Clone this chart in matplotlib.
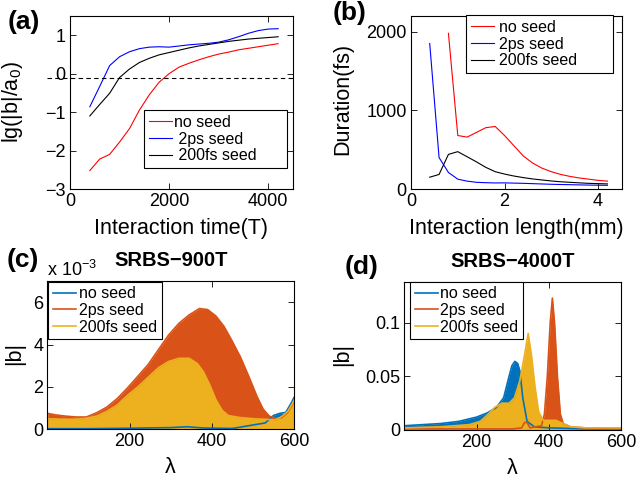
import numpy as np
import matplotlib
matplotlib.use("Agg")
import matplotlib.pyplot as plt

plt.rcParams['font.family'] = ['Liberation Sans', 'DejaVu Sans']
plt.rcParams['mathtext.fontset'] = 'custom'
plt.rcParams['mathtext.rm'] = 'Liberation Sans'
plt.rcParams['mathtext.it'] = 'Liberation Sans:italic'
plt.rcParams['axes.linewidth'] = 0.8

# ---------------- data ----------------
# (a) lg(|b|/a0) vs interaction time (T)
time_T = [400, 600, 800, 1000, 1200, 1400, 1600, 1800, 2000, 2200,
          2400, 2600, 2800, 3000, 3200, 3400, 3600, 3800, 4000, 4200]
a_noseed = [-2.52, -2.22, -2.10, -1.78, -1.43, -0.95, -0.55, -0.22, 0.0, 0.17,
            0.27, 0.36, 0.44, 0.51, 0.56, 0.62, 0.66, 0.70, 0.74, 0.78]
a_2ps = [-0.86, -0.33, 0.21, 0.44, 0.57, 0.65, 0.69, 0.70, 0.69, 0.72,
         0.75, 0.77, 0.79, 0.82, 0.88, 0.96, 1.05, 1.12, 1.16, 1.17]
a_200fs = [-1.10, -0.80, -0.51, -0.10, 0.12, 0.29, 0.40, 0.49, 0.55, 0.61,
           0.67, 0.72, 0.76, 0.80, 0.84, 0.87, 0.90, 0.92, 0.94, 0.96]
threshold = -0.11

# (b) duration (fs) vs interaction length (mm)
length_mm = [0.4, 0.6, 0.8, 1.0, 1.2, 1.4, 1.6, 1.8, 2.0, 2.2,
             2.4, 2.6, 2.8, 3.0, 3.2, 3.4, 3.6, 3.8, 4.0, 4.2]
b_noseed = [np.nan, np.nan, 1980, 680, 660, 720, 780, 795, 680, 550,
            420, 330, 265, 220, 185, 160, 140, 125, 110, 100]
b_2ps = [1850, 400, 210, 125, 100, 85, 80, 77, 78, 75,
         72, 68, 64, 60, 57, 55, 52, 50, 48, 47]
b_200fs = [150, 185, 440, 475, 410, 345, 275, 220, 190, 165,
           145, 128, 115, 102, 92, 85, 78, 72, 68, 65]

# (c) SRBS-900T spectra (|b|, units of 1e-3)
c_lam_noseed = [1, 100, 200, 300, 340, 380, 450, 530, 550, 565, 580, 595, 600]
c_noseed = [0.03, 0.03, 0.05, 0.08, 0.12, 0.06, 0.04, 0.3, 0.65, 0.75, 0.8, 1.3, 1.5]
c_lam_2ps = [1, 20, 45, 70, 95, 120, 145, 170, 195, 220, 245, 270, 295, 320, 345,
             370, 390, 410, 430, 450, 470, 490, 510, 525, 540, 555, 570, 585, 600]
c_2ps = [0.75, 0.68, 0.62, 0.58, 0.58, 0.78, 1.05, 1.45, 1.95, 2.5, 3.05, 3.75, 4.45, 5.0, 5.4,
         5.7, 5.65, 5.35, 4.85, 4.15, 3.4, 2.5, 1.55, 0.95, 0.62, 0.52, 0.55, 0.8, 1.3]
c_lam_200fs = [1, 30, 60, 90, 120, 145, 170, 195, 220, 245, 270, 295, 320, 345,
               365, 380, 395, 410, 425, 440, 470, 500, 530, 555, 570, 585, 600]
c_200fs = [0.5, 0.48, 0.47, 0.5, 0.62, 0.85, 1.15, 1.6, 2.0, 2.45, 2.9, 3.2, 3.35, 3.35,
           3.1, 2.7, 2.1, 1.4, 0.9, 0.65, 0.55, 0.5, 0.47, 0.45, 0.6, 0.85, 1.35]

# (d) SRBS-4000T spectra (|b|)
d_lam_noseed = [1, 50, 100, 150, 200, 230, 255, 275, 290, 298, 306, 314, 320, 328,
                340, 360, 400, 500, 600]
d_noseed = [0.004, 0.005, 0.006, 0.008, 0.012, 0.016, 0.021, 0.030, 0.050, 0.060, 0.064,
            0.062, 0.055, 0.030, 0.008, 0.003, 0.002, 0.001, 0.001]
d_lam_2ps = [1, 300, 325, 333, 340, 348, 380, 388, 396, 404, 410, 416, 424, 432, 440,
             460, 500, 600]
d_2ps = [0.001, 0.001, 0.002, 0.007, 0.007, 0.002, 0.004, 0.015, 0.05, 0.10, 0.123,
         0.10, 0.05, 0.015, 0.006, 0.003, 0.002, 0.001]
d_lam_200fs = [1, 100, 180, 210, 230, 250, 270, 290, 305, 320, 333, 343, 352, 362, 372,
               385, 420, 440, 460, 500, 600]
d_200fs = [0.002, 0.003, 0.005, 0.008, 0.014, 0.021, 0.025, 0.025, 0.030, 0.046, 0.070,
           0.090, 0.070, 0.040, 0.017, 0.009, 0.009, 0.006, 0.003, 0.002, 0.002]

labels = ['no seed', '2ps seed', '200fs seed']
mcol = ['#0072BD', '#D95319', '#EDB120']

# ---------------- figure ----------------
W, H = 640, 480
fig = plt.figure(figsize=(6.4, 4.8), dpi=100)

TICK = 13
LAB = 15.5
LEG = 11.5


def px_axes(l, r, t, b):
    return fig.add_axes([l / W, 1 - b / H, (r - l) / W, (b - t) / H])


def style(ax):
    ax.tick_params(direction='in', top=True, right=True, length=4, width=0.6,
                   labelsize=TICK, pad=3)


def legend(ax, x, y, w=None, tpad=0.15):
    kw = dict(loc='upper left', bbox_transform=fig.transFigure, fontsize=LEG,
              frameon=True, fancybox=False, edgecolor='k', framealpha=1,
              borderaxespad=0, borderpad=0.3, labelspacing=0.1, handlelength=1.45,
              handletextpad=tpad)
    if w is None:
        lg = ax.legend(bbox_to_anchor=(x / W, 1 - y / H), **kw)
    else:
        lg = ax.legend(bbox_to_anchor=(x / W, 1 - y / H, w / W, 0.01), mode='expand', **kw)
    lg.get_frame().set_linewidth(0.8)
    return lg


# (a)
axa = px_axes(70, 293, 16, 189)
axa.plot(time_T, a_noseed, color='r', lw=0.8, label=labels[0])
axa.plot(time_T, a_2ps, color='b', lw=0.8, label=' ' + labels[1])
axa.plot(time_T, a_200fs, color='k', lw=0.8, label=' ' + labels[2])
axa.plot([-470, 4500], [threshold, threshold], color='k', lw=0.8,
         linestyle=(0, (4, 3)), clip_on=False)
axa.set_xlim(0, 4500)
axa.set_ylim(-3, 1.5)
axa.set_xticks([0, 2000, 4000])
axa.set_yticks([-3, -2, -1, 0, 1])
style(axa)
axa.set_xlabel('Interaction time(T)', fontsize=LAB)
axa.set_ylabel(r'lg(|b|/a$_\mathregular{0}$)', fontsize=LAB)
axa.xaxis.set_label_coords(0.5, -0.165)
axa.yaxis.set_label_coords(-0.20, 0.5)
legend(axa, 144, 115, 143)

# (b)
axb = px_axes(411, 621.5, 16, 189)
axb.plot(length_mm, b_noseed, color='r', lw=0.8, label=labels[0])
axb.plot(length_mm, b_2ps, color='b', lw=0.8, label=labels[1])
axb.plot(length_mm, b_200fs, color='k', lw=0.8, label=labels[2])
axb.set_xlim(0, 4.5)
axb.set_ylim(0, 2200)
axb.set_xticks([0, 2, 4])
axb.set_yticks([0, 1000, 2000])
style(axb)
axb.set_xlabel('Interaction length(mm)', fontsize=LAB)
axb.set_ylabel('Duration(fs)', fontsize=LAB)
axb.xaxis.set_label_coords(0.5, -0.165)
axb.yaxis.set_label_coords(-0.276, 0.52)
legend(axb, 466, 20, 147, tpad=0.3)

# (c)
axc = px_axes(47.3, 294, 281, 429.3)
for lam, val, col, lab in [(c_lam_noseed, c_noseed, mcol[0], labels[0]),
                           (c_lam_2ps, c_2ps, mcol[1], labels[1]),
                           (c_lam_200fs, c_200fs, mcol[2], labels[2])]:
    axc.fill_between(lam, 0, val, color=col, lw=0)
    axc.plot(lam, val, color=col, lw=1.2, label=lab)
axc.set_xlim(0, 600)
axc.set_ylim(0, 7)
axc.set_xticks([200, 400, 600])
axc.set_yticks([0, 2, 4, 6])
style(axc)
axc.set_xlabel('λ', fontsize=LAB)
axc.set_ylabel('|b|', fontsize=LAB)
axc.xaxis.set_label_coords(0.5, -0.19)
axc.yaxis.set_label_coords(-0.09, 0.51)
axc.text(0, 1.035, 'x 10$^{\\mathregular{\u22123}}$', transform=axc.transAxes,
         fontsize=TICK, ha='left', va='baseline')
axc.set_title('SRBS\u2212900T', fontsize=14.5, fontweight='bold', pad=11)
legend(axc, 48.3, 281.7)

# (d)
axd = px_axes(404.3, 621, 282, 430)
for lam, val, col, lab in [(d_lam_noseed, d_noseed, mcol[0], labels[0]),
                           (d_lam_2ps, d_2ps, mcol[1], labels[1]),
                           (d_lam_200fs, d_200fs, mcol[2], labels[2])]:
    axd.fill_between(lam, 0, val, color=col, lw=0)
    axd.plot(lam, val, color=col, lw=1.2, label=lab)
axd.set_xlim(0, 600)
axd.set_ylim(0, 0.138)
axd.set_xticks([200, 400, 600])
axd.set_yticks([0, 0.05, 0.1])
axd.set_yticklabels(['0', '0.05', '0.1'])
style(axd)
axd.set_xlabel('λ', fontsize=LAB)
axd.set_ylabel('|b|', fontsize=LAB)
axd.xaxis.set_label_coords(0.5, -0.19)
axd.yaxis.set_label_coords(-0.237, 0.51)
axd.set_title('SRBS\u22124000T', fontsize=14.5, fontweight='bold', pad=11)
legend(axd, 410, 281.7)

for ax in (axc, axd):
    for s in ax.spines.values():
        s.set_zorder(5)

# panel labels
for x, y, t in [(8, 22, '(a)'), (333, 13, '(b)'), (7, 260, '(c)'), (345, 267, '(d)')]:
    fig.text(x / W, 1 - y / H, t, fontsize=19, fontweight='bold', ha='left', va='center')

fig.savefig('out.png', dpi=100)
